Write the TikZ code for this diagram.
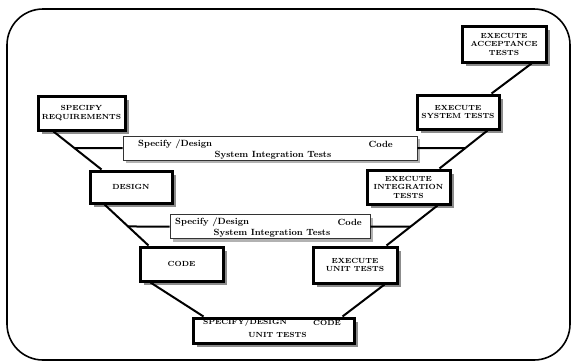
\documentclass[tikz,border=0pt]{standalone}
\usepackage{tikz}
\usetikzlibrary{shadows}

\tikzset{
  box/.style={draw, line width=3pt, fill=white, align=center, inner sep=1pt,
    font=\fontsize{7.4}{8.5}\selectfont\bfseries,
    drop shadow={shadow xshift=4pt, shadow yshift=-4pt, fill=black!45, opacity=1}},
  bar/.style={draw=black!80, line width=0.8pt, fill=white,
    drop shadow={shadow xshift=3pt, shadow yshift=-3pt, fill=black!30, opacity=1}},
  bartext/.style={font=\fontsize{9}{11}\selectfont\bfseries, inner sep=0pt},
  boxtext/.style={font=\fontsize{7.4}{8.5}\selectfont\bfseries, inner sep=0pt},
  link/.style={line width=2pt},
}

\begin{document}
\begin{tikzpicture}[x=1pt, y=-1pt]
  \useasboundingbox (0,0) rectangle (575,362);

  % Ramme
  \draw[line width=1.6pt, rounded corners=36] (7,9) rectangle (570,360);

  % Venstre side
  \node[box, minimum width=87, minimum height=34] (req) at (81.5,113) {SPECIFY\\REQUIREMENTS};
  \node[box, minimum width=82, minimum height=32] (des) at (131,187) {DESIGN};
  \node[box, minimum width=83, minimum height=34] (code) at (181.5,264) {CODE};

  % Hoyre side
  \node[box, minimum width=84, minimum height=36] (acc) at (504,44) {EXECUTE\\ACCEPTANCE\\TESTS};
  \node[box, minimum width=82, minimum height=34] (sys) at (458,112) {EXECUTE\\SYSTEM TESTS};
  \node[box, minimum width=83, minimum height=34] (integ) at (408.5,187) {EXECUTE\\INTEGRATION\\TESTS};
  \node[box, minimum width=84, minimum height=36] (unit) at (355,265) {EXECUTE\\UNIT TESTS};

  % Bunn
  \node[box, minimum width=161, minimum height=25] (bot) at (273.5,330.5) {};
  \node[boxtext, anchor=west] (botspec) at (203,323) {SPECIFY/DESIGN};
  \node[boxtext, anchor=east] (botcode) at (341,323) {CODE};
  \node[boxtext] (bottest) at (277.5,335) {UNIT TESTS};

  % Stolpe 1
  \node[bar, minimum width=294, minimum height=24] (bar1) at (270,148) {};
  \node[bartext, anchor=west] (bar1spec) at (138,144) {Specify /Design};
  \node[bartext, anchor=east] (bar1code) at (393,144) {Code};
  \node[bartext] (bar1test) at (273,155) {System Integration Tests};

  % Stolpe 2
  \node[bar, minimum width=200, minimum height=24] (bar2) at (270,226.5) {};
  \node[bartext, anchor=west] (bar2spec) at (175,222) {Specify /Design};
  \node[bartext, anchor=east] (bar2code) at (362,222) {Code};
  \node[bartext] (bar2test) at (272,233) {System Integration Tests};

  % Endepunkt
  \coordinate (reqB) at ([xshift=17]req.south west);
  \coordinate (desT) at ([xshift=13]des.north west);
  \coordinate (desB) at ([xshift=16]des.south west);
  \coordinate (codeT) at ([xshift=10]code.north west);
  \coordinate (codeB) at ([xshift=12]code.south west);
  \coordinate (botL) at ([xshift=12]bot.north west);
  \coordinate (accB) at ([xshift=-16]acc.south east);
  \coordinate (sysT) at ([xshift=-9]sys.north east);
  \coordinate (sysB) at ([xshift=-13]sys.south east);
  \coordinate (integT) at ([xshift=-12]integ.north east);
  \coordinate (integB) at ([xshift=-14]integ.south east);
  \coordinate (unitT) at ([xshift=-12]unit.north east);
  \coordinate (unitB) at ([xshift=-14]unit.south east);
  \coordinate (botR) at ([xshift=-13]bot.north east);

  % Linjer
  \draw[link] (reqB) -- (desT);
  \draw[link] (desB) -- (codeT);
  \draw[link] (codeB) -- (botL);
  \draw[link] (accB) -- (sysT);
  \draw[link] (sysB) -- (integT);
  \draw[link] (integB) -- (unitT);
  \draw[link] (unitB) -- (botR);

  % Tverrlinjer
  \draw[link] (bar1.west) -- (intersection of reqB--desT and bar1.west--bar1.east);
  \draw[link] (bar1.east) -- (intersection of sysB--integT and bar1.west--bar1.east);
  \draw[link] (bar2.west) -- (intersection of desB--codeT and bar2.west--bar2.east);
  \draw[link] (bar2.east) -- (intersection of integB--unitT and bar2.west--bar2.east);
\end{tikzpicture}
\end{document}
